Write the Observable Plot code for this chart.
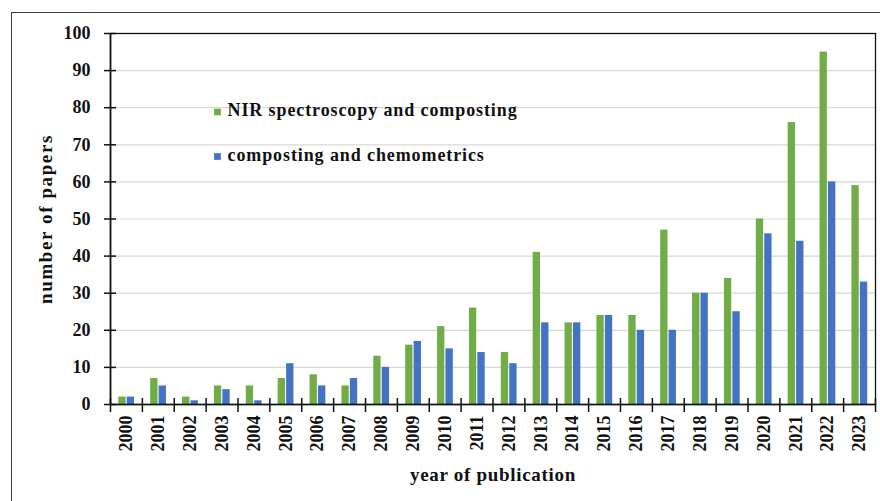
<!DOCTYPE html>
<html>
<head>
<meta charset="utf-8">
<script src="https://cdn.jsdelivr.net/npm/d3@7"></script>
<script src="https://cdn.jsdelivr.net/npm/@observablehq/plot@0.6"></script>
<style>
  html, body { margin: 0; padding: 0; background: #fff; }
  #wrap { position: relative; width: 880px; height: 501px; overflow: hidden; }
  #border { position: absolute; left: 11px; top: 12px; width: 900px; height: 520px;
            border-left: 1px solid #3a3a3a; border-top: 1px solid #3a3a3a; pointer-events: none; }
</style>
</head>
<body>
<div id="wrap"><div id="border"></div></div>
<script>
const years = ["2000","2001","2002","2003","2004","2005","2006","2007","2008","2009","2010","2011",
               "2012","2013","2014","2015","2016","2017","2018","2019","2020","2021","2022","2023"];
const nirComposting = [2,7,2,5,5,7,8,5,13,16,21,26,14,41,22,24,24,47,30,34,50,76,95,59];
const compostingChemometrics = [2,5,1,4,1,11,5,7,10,17,15,14,11,22,22,24,20,20,30,25,46,44,60,33];
const seriesNames = ["NIR spectroscopy and composting", "composting and chemometrics"];
const yTicks = [0,10,20,30,40,50,60,70,80,90,100];
const xTitle = "year of publication";
const yTitle = "number of papers";

const green = "#70AD47", blue = "#4472C4";
const W = 880, H = 501, mL = 110, mR = 5, mT = 33, mB = 97;
const bw = (W - mL - mR) / years.length;
const font = "'Liberation Serif', 'Times New Roman', serif";

const greenData = years.map((y, i) => ({year: y, value: nirComposting[i]}));
const blueData = years.map((y, i) => ({year: y, value: compostingChemometrics[i]}));

const chart = Plot.plot({
  width: W, height: H,
  marginLeft: mL, marginRight: mR, marginTop: mT, marginBottom: mB,
  style: {fontFamily: font, background: "#fff", overflow: "visible"},
  x: {type: "band", domain: years, padding: 0, round: false},
  y: {domain: [0, 100]},
  marks: [
    Plot.gridY(yTicks, {stroke: "#d9d9d9", strokeOpacity: 1, strokeWidth: 1.2}),
    Plot.barY(greenData, {x: "year", y: "value", fill: green,
      insetLeft: bw * 0.26, insetRight: bw * 0.51}),
    Plot.barY(blueData, {x: "year", y: "value", fill: blue,
      insetLeft: bw * 0.525, insetRight: bw * 0.245}),
    Plot.frame({stroke: "#111", strokeWidth: 1.3}),
    Plot.ruleY([0], {stroke: "#111", strokeWidth: 1.6}),
    Plot.ruleX([years[0]], {x: d => d, dx: -bw / 2, stroke: "#111", strokeWidth: 1.6}),
    Plot.axisY(yTicks, {tickSize: 12, dx: 6, tickPadding: 14, fontSize: 18, fontWeight: "bold",
      fill: "#111", stroke: "#111", strokeWidth: 1.5, label: null}),
    Plot.ruleX(years, {x: d => d, dx: -bw / 2, y1: 0, y2: 0, insetTop: -6, insetBottom: -8,
      stroke: "#111", strokeWidth: 1.5}),
    Plot.ruleX([years[years.length - 1]], {x: d => d, dx: bw / 2, y1: 0, y2: 0, insetTop: -6, insetBottom: -8,
      stroke: "#111", strokeWidth: 1.5}),
    Plot.axisX({tickSize: 0, tickRotate: -90, tickPadding: 11, fontSize: 18, fontWeight: "bold",
      fill: "#111", label: null}),
    Plot.text([xTitle], {frameAnchor: "bottom", dy: 70, lineAnchor: "middle", textAnchor: "middle",
      fontSize: 19, fontWeight: "bold", fill: "#111"}),
    Plot.text([yTitle], {frameAnchor: "left", dx: -65, dy: 0, rotate: -90, textAnchor: "middle",
      lineAnchor: "middle", fontSize: 19, fontWeight: "bold", fill: "#111"}),
    // legend
    Plot.dot([seriesNames[0]], {frameAnchor: "top-left", dx: 107, dy: 78.5, symbol: "square", r: 3.8, fill: green}),
    Plot.text([seriesNames[0]], {frameAnchor: "top-left", dx: 117, dy: 77, textAnchor: "start",
      lineAnchor: "middle", fontSize: 18, fontWeight: "bold", fill: "#111"}),
    Plot.dot([seriesNames[1]], {frameAnchor: "top-left", dx: 107, dy: 123, symbol: "square", r: 3.8, fill: blue}),
    Plot.text([seriesNames[1]], {frameAnchor: "top-left", dx: 117, dy: 121.5, textAnchor: "start",
      lineAnchor: "middle", fontSize: 18, fontWeight: "bold", fill: "#111"})
  ]
});
const spacing = new Map([[seriesNames[0], 0.9], [seriesNames[1], 0.9], [xTitle, 0.7], [yTitle, 1.6]]);
d3.select(chart).selectAll("text").each(function() {
  const s = spacing.get(this.textContent);
  if (s != null) this.setAttribute("letter-spacing", s);
});
document.getElementById("wrap").prepend(chart);
</script>
</body>
</html>
